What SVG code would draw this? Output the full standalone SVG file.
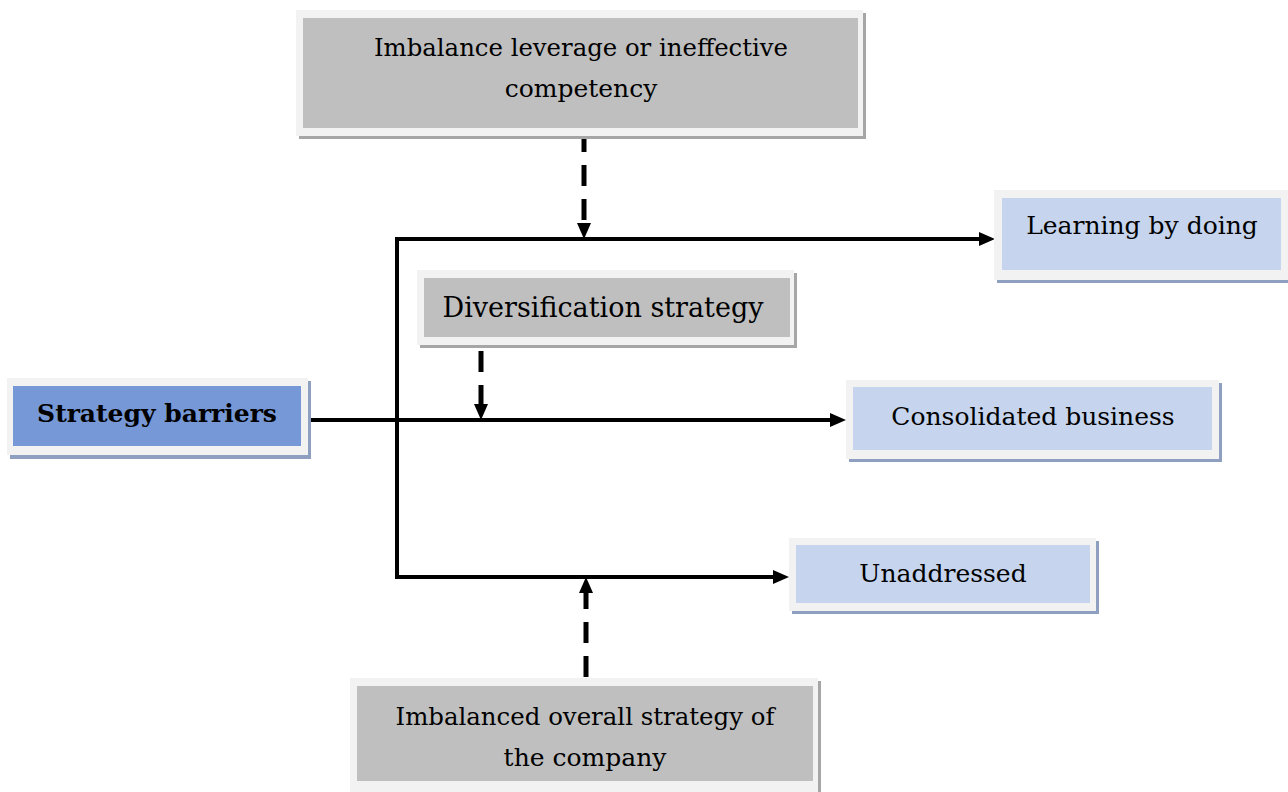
<svg xmlns="http://www.w3.org/2000/svg" width="1288" height="792" viewBox="0 0 1288 792">
<style>
.frame{fill:#f2f2f2}
.gshadow{fill:#a6a6a6}
.bshadow{fill:#8f9fbf}
.gray{fill:#bfbfbf}
.lblue{fill:#c6d4ed}
.dblue{fill:#7698d6}
text{font-family:"DejaVu Serif","Liberation Serif",serif;font-size:25px;fill:#000;text-anchor:middle}
.bold{font-weight:bold}
.big{font-size:27px}
.solid{stroke:#000;stroke-width:4;fill:none}
.dash{stroke:#000;stroke-width:5;fill:none;stroke-dasharray:21 13}
</style>
<defs>
<marker id="ah" markerUnits="userSpaceOnUse" markerWidth="17" markerHeight="15" refX="5" refY="7.5" orient="auto">
<path d="M0,0.5 L16,7.5 L0,14.5 z" fill="#000"/>
</marker>
</defs>
<rect width="1288" height="792" fill="#fff"/>

<g id="connectors">
<path class="solid" d="M397,237 V579"/>
<path class="solid" d="M395,239 H984" marker-end="url(#ah)"/>
<path class="solid" d="M311,420 H835" marker-end="url(#ah)"/>
<path class="solid" d="M395,577 H778" marker-end="url(#ah)"/>
<path class="dash" d="M584,131 V228" marker-end="url(#ah)"/>
<path class="dash" d="M481,351 V409" marker-end="url(#ah)"/>
<path class="dash" d="M586,677 V588" marker-end="url(#ah)"/>
</g>

<g id="node-top">
<rect class="gshadow" x="299" y="13" width="567" height="126"/>
<rect class="frame" x="296" y="10" width="567" height="126"/>
<rect class="gray" x="303" y="18" width="555" height="110"/>
<text x="581" y="56" textLength="414" lengthAdjust="spacingAndGlyphs">Imbalance leverage or ineffective</text>
<text x="581" y="97">competency</text>
</g>

<g id="node-learning">
<rect class="bshadow" x="997" y="193" width="291" height="90"/>
<rect class="frame" x="994" y="190" width="294" height="90"/>
<rect class="lblue" x="1002" y="198" width="279" height="72"/>
<text x="1142" y="234">Learning by doing</text>
</g>

<g id="node-diversification">
<rect class="gshadow" x="420" y="273" width="377" height="75"/>
<rect class="frame" x="417" y="270" width="377" height="75"/>
<rect class="gray" x="424" y="278" width="366" height="59"/>
<text class="big" x="603" y="317">Diversification strategy</text>
</g>

<g id="node-strategy">
<rect class="bshadow" x="10" y="381" width="301" height="78"/>
<rect class="frame" x="7" y="378" width="301" height="77"/>
<rect class="dblue" x="13" y="386" width="288" height="60"/>
<text class="bold" x="157" y="422">Strategy barriers</text>
</g>

<g id="node-consolidated">
<rect class="bshadow" x="849" y="383" width="373" height="79"/>
<rect class="frame" x="846" y="380" width="373" height="79"/>
<rect class="lblue" x="853" y="387" width="359" height="63"/>
<text x="1033" y="425">Consolidated business</text>
</g>

<g id="node-unaddressed">
<rect class="bshadow" x="792" y="541" width="307" height="73"/>
<rect class="frame" x="789" y="538" width="307" height="73"/>
<rect class="lblue" x="796" y="545" width="294" height="58"/>
<text x="943" y="582">Unaddressed</text>
</g>

<g id="node-bottom">
<rect class="gshadow" x="353" y="681" width="468" height="111"/>
<rect class="frame" x="350" y="678" width="468" height="114"/>
<rect class="gray" x="357" y="686" width="456" height="95"/>
<text x="585" y="725" textLength="379" lengthAdjust="spacingAndGlyphs">Imbalanced overall strategy of</text>
<text x="585" y="766">the company</text>
</g>
</svg>
